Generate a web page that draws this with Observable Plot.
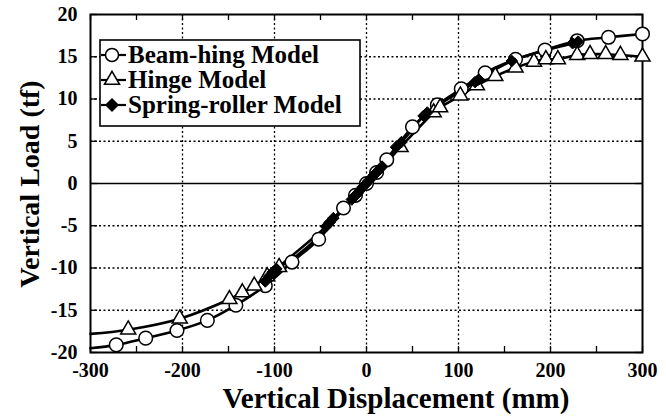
<!DOCTYPE html>
<html><head><meta charset="utf-8">
<script src="https://cdn.jsdelivr.net/npm/d3@7"></script>
<script src="https://cdn.jsdelivr.net/npm/@observablehq/plot@0.6"></script>
<style>
html,body{margin:0;padding:0;background:#fff;}
#chart svg{display:block;}
#chart svg text{font-family:"Liberation Serif","Times New Roman",serif !important;}
</style></head><body><div id="chart"></div>
<script>
// Beam-hing Model (circles); beamM: 1 = marker drawn
const beamX = [-300, -272, -240, -206, -173, -142, -110, -81, -52, -25, -12, 0, 11, 22, 50, 77, 103, 129, 162, 194, 229, 263, 300];
const beamY = [-19.5, -19.1, -18.3, -17.4, -16.2, -14.4, -12.1, -9.3, -6.6, -2.9, -1.4, 0, 1.3, 2.8, 6.7, 9.3, 11.2, 13.1, 14.7, 15.8, 16.9, 17.3, 17.7];
const beamM = [0, 1, 1, 1, 1, 1, 1, 1, 1, 1, 1, 1, 1, 1, 1, 1, 1, 1, 1, 1, 1, 1, 1];
// Hinge Model (triangles)
const hingeX = [-300, -259, -203, -149, -135, -122, -108, -95, -80, -50, -25, 0, 20, 37, 73, 80, 102, 120, 140, 162, 182, 195, 208, 229, 243, 260, 276, 300];
const hingeY = [-17.8, -17.3, -16.0, -13.7, -12.9, -12.1, -11.0, -9.9, -8.9, -6.1, -3.0, 0.1, 2.3, 4.3, 8.4, 9.0, 10.4, 11.6, 12.7, 13.7, 14.4, 14.7, 14.7, 15.2, 15.3, 15.3, 15.2, 15.0];
const hingeM = [0, 1, 1, 1, 1, 1, 1, 1, 0, 0, 0, 0, 0, 1, 1, 1, 1, 1, 1, 1, 1, 1, 1, 1, 1, 1, 1, 1];
// Spring-roller Model (diamonds)
const springX = [-110, -106, -102, -98, -44, -40, -36, -16, -13, -10, -7, -4, -1, 2, 5, 8, 11, 14, 17, 32, 38, 62, 66, 118, 122, 158, 224, 230];
const springY = [-11.6, -11.0, -10.5, -10.1, -5.1, -4.6, -4.1, -1.9, -1.5, -1.2, -0.8, -0.4, -0.1, 0.3, 0.6, 1.0, 1.3, 1.7, 2.0, 4.3, 4.9, 8.0, 8.4, 12.0, 12.3, 14.5, 16.6, 16.8];

const xTicks = [-300, -200, -100, 0, 100, 200, 300];
const xMinor = [-250, -150, -50, 50, 150, 250];
const yTicks = [-20, -15, -10, -5, 0, 5, 10, 15, 20];
const legendLabels = ["Beam-hing Model", "Hinge Model", "Spring-roller Model"];
const legendSymbols = ["circle", "triangle", "diamond2"];
const xTitle = "Vertical Displacement (mm)";
const yTitle = "Vertical Load (tf)";

const beam = beamX.map((x, i) => ({x, y: beamY[i], m: beamM[i]}));
const hinge = hingeX.map((x, i) => ({x, y: hingeY[i], m: hingeM[i]}));
const spring = springX.map((x, i) => ({x, y: springY[i]}));

const FONT = "Liberation Serif";
const W = 666, H = 416, ML = 90, MR = 24, MT = 14, MB = 64;

const chart = Plot.plot({
  width: W, height: H,
  marginLeft: ML, marginRight: MR, marginTop: MT, marginBottom: MB,
  style: {fontFamily: FONT, fontSize: "20px", background: "white", color: "black"},
  x: {domain: [-300, 300]},
  y: {domain: [-20, 20]},
  marks: [
    Plot.ruleX(xTicks.slice(1, -1), {x: d => d, stroke: "black", strokeWidth: 1.3, strokeDasharray: "2,2.5"}),
    Plot.ruleY(yTicks.slice(1, -1).filter(d => d !== 0), {y: d => d, stroke: "black", strokeWidth: 1.3, strokeDasharray: "2,2.5"}),
    Plot.ruleY([0], {y: d => d, stroke: "black", strokeWidth: 1.4}),
    Plot.ruleX(xMinor.concat(xTicks), {x: d => d, insetTop: H - MT - MB - 6, stroke: "black", strokeWidth: 1.3}),
    Plot.ruleX(xMinor.concat(xTicks), {x: d => d, insetBottom: H - MT - MB - 6, stroke: "black", strokeWidth: 1.3}),
    Plot.ruleY(yTicks, {y: d => d, insetRight: W - ML - MR - 7, stroke: "black", strokeWidth: 1.3}),
    Plot.ruleY(yTicks, {y: d => d, insetLeft: W - ML - MR - 7, stroke: "black", strokeWidth: 1.3}),
    Plot.frame({stroke: "black", strokeWidth: 2}),
    Plot.axisX({ticks: xTicks, tickSize: 0, tickPadding: 10, tickFormat: d => String(d), fontSize: 20, fontWeight: "bold", label: null}),
    Plot.axisY({ticks: yTicks, tickSize: 0, tickPadding: 13, tickFormat: d => String(d), fontSize: 20, fontWeight: "bold", label: null}),
    Plot.line(beam, {x: "x", y: "y", stroke: "black", strokeWidth: 2.6, curve: "catmull-rom"}),
    Plot.line(hinge, {x: "x", y: "y", stroke: "black", strokeWidth: 2.6, curve: "catmull-rom"}),
    Plot.line(spring, {x: "x", y: "y", stroke: "black", strokeWidth: 2.6, curve: "catmull-rom"}),
    Plot.dot(beam.filter(d => d.m), {x: "x", y: "y", symbol: "circle", r: 6.8, fill: "white", stroke: "black", strokeWidth: 1.5}),
    Plot.dot(hinge.filter(d => d.m), {x: "x", y: "y", symbol: "triangle", r: 5.6, fill: "white", stroke: "black", strokeWidth: 1.5}),
    Plot.dot(spring, {x: "x", y: "y", symbol: "diamond2", r: 5.2, fill: "black", stroke: "black", strokeWidth: 1})
  ]
});

const svg = d3.select(chart);
svg.append("text")
  .attr("x", 396).attr("y", 408)
  .attr("text-anchor", "middle")
  .attr("font-size", 29).attr("font-weight", "bold")
  .text(xTitle);
svg.append("text")
  .attr("transform", "translate(39,184) rotate(-90)")
  .attr("text-anchor", "middle")
  .attr("font-size", 28).attr("font-weight", "bold")
  .text(yTitle);

const lg = svg.append("g");
lg.append("rect").attr("x", 100).attr("y", 40).attr("width", 260).attr("height", 86)
  .attr("fill", "white").attr("stroke", "black").attr("stroke-width", 1.6);
const symTypes = {circle: d3.symbolCircle, triangle: d3.symbolTriangle, diamond2: d3.symbolDiamond2};
const symR = [6.5, 5.6, 5.4];
legendLabels.forEach((lab, i) => {
  const cy = 55 + i * 25;
  lg.append("line").attr("x1", 101).attr("x2", 126).attr("y1", cy).attr("y2", cy)
    .attr("stroke", "black").attr("stroke-width", 2.2);
  const sym = d3.symbol().type(symTypes[legendSymbols[i]]).size(Math.PI * symR[i] * symR[i]);
  lg.append("path").attr("d", sym()).attr("transform", `translate(112,${cy})`)
    .attr("fill", i === 2 ? "black" : "white").attr("stroke", "black").attr("stroke-width", 1.5);
  lg.append("text").attr("x", 128).attr("y", cy + 8)
    .attr("text-anchor", "start")
    .attr("font-size", 25).attr("font-weight", "bold")
    .text(lab);
});

document.getElementById("chart").appendChild(chart);
</script>
</body></html>
